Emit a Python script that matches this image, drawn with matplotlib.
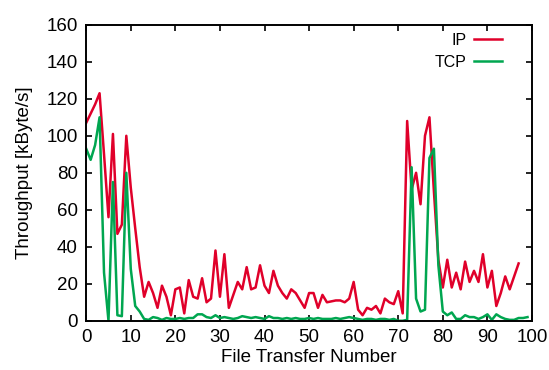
import matplotlib
matplotlib.use("Agg")
import matplotlib.pyplot as plt
import numpy as np

plt.rcParams['font.family'] = ['Liberation Sans', 'DejaVu Sans']

# IP throughput (kByte/s), transfers 0..98
ip = [107, 112, 117, 123, 90, 56, 101, 47, 52, 100,
      72, 50, 29, 13, 21, 15, 7, 19, 13, 3,
      17, 18, 4, 22, 13, 12, 23, 10, 12, 38,
      13, 36, 7, 14, 21, 17, 29, 17, 18, 30,
      19, 15, 27, 19, 15, 12, 17, 15, 11, 7,
      15, 15, 7, 14, 10, 10.5, 11, 11, 10, 12,
      21, 6, 3, 7, 6, 8, 4, 12, 10, 9,
      16, 4, 108, 71, 80, 63, 100, 110, 70, 33,
      18, 33, 18, 26, 17, 32, 21, 27, 21, 36,
      18, 27, 8, 15, 24, 17, 24, 31]

# TCP throughput (kByte/s), transfers 0..99
tcp = [93, 87, 95, 110, 26, 0, 75, 3, 2.5, 80,
       28, 8, 5, 1, 0.5, 2, 1.5, 0.5, 1.5, 1,
       1, 1.5, 1, 1.5, 1.5, 3.5, 3.5, 2, 1.5, 3,
       1.5, 2, 1.5, 1, 1.5, 2.5, 2, 1.5, 2, 1.5,
       1, 2.5, 1.5, 1.5, 1, 1.5, 1, 1.5, 1, 1,
       1.5, 1, 1.5, 1, 1, 1, 1.5, 1, 1.5, 2,
       1.5, 1, 0.5, 1, 1, 0.5, 1, 1, 0.5, 1,
       0, 0, 0.5, 83, 12, 5, 6, 88, 93, 30,
       5, 3, 4.5, 1, 1, 3, 2, 2, 1, 2,
       3.5, 0.5, 3.5, 2, 1, 0.5, 0.5, 1.5, 1.5, 2]

x_ip = np.arange(len(ip))
x_tcp = np.arange(len(tcp))

fig = plt.figure(figsize=(5.49, 3.70), dpi=100)
ax = fig.add_axes([0.157, 0.133, 0.812, 0.80])

ax.plot(x_ip, ip, color='#e0002a', lw=1.8, label='IP')
ax.plot(x_tcp, tcp, color='#00a650', lw=1.8, label='TCP')

ax.set_xlim(0, 100)
ax.set_ylim(0, 160)
ax.set_xticks(np.arange(0, 101, 10))
ax.set_yticks(np.arange(0, 161, 20))
ax.tick_params(direction='in', top=True, right=True, length=4, width=1.2,
               labelsize=13.5)
ax.tick_params(axis='x', pad=6)
ax.tick_params(axis='y', pad=6)
for s in ax.spines.values():
    s.set_linewidth(1.4)

ax.set_xlabel('File Transfer Number', fontsize=13.5, labelpad=2)
ax.set_ylabel('Throughput [kByte/s]', fontsize=13.5, labelpad=10)

ax.legend(loc='upper right', bbox_to_anchor=(0.948, 0.995), frameon=False,
          markerfirst=False, fontsize=11.5, handlelength=1.75,
          handletextpad=0.5, labelspacing=0.45, borderaxespad=0)

fig.savefig('out.png', dpi=100)
